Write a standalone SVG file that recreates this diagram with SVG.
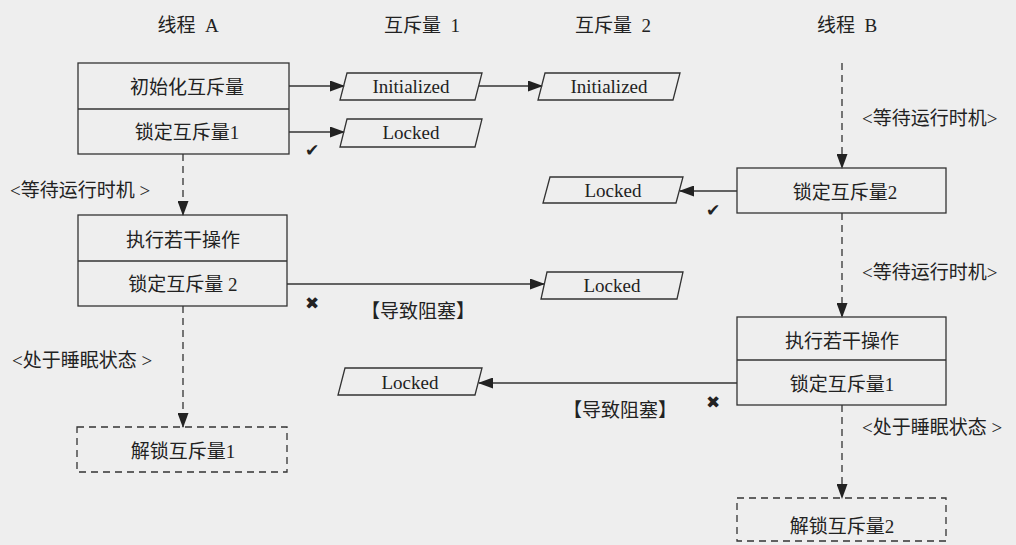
<svg xmlns="http://www.w3.org/2000/svg" width="1016" height="545" viewBox="0 0 1016 545">
<defs>
<marker id="ah" viewBox="0 0 15 11" refX="14" refY="5.5" markerWidth="15" markerHeight="11" markerUnits="userSpaceOnUse" orient="auto">
<path d="M0,0 L15,5.5 L0,11 Z" fill="#222"/>
</marker>
</defs>
<style>
text{font-family:"Liberation Serif","Noto Sans CJK SC",serif;font-size:19px;fill:#222;dominant-baseline:central}
.c{text-anchor:middle}
.t{white-space:pre}
.box{fill:none;stroke:#333;stroke-width:1.3}
.dbox{fill:none;stroke:#333;stroke-width:1.3;stroke-dasharray:7,5}
.par{fill:none;stroke:#333;stroke-width:1.3}
.ln{fill:none;stroke:#333;stroke-width:1.3;marker-end:url(#ah)}
.dl{fill:none;stroke:#333;stroke-width:1.3;stroke-dasharray:7,5;marker-end:url(#ah)}
.sym{font-family:"DejaVu Sans",sans-serif;font-size:17px;text-anchor:middle}
</style>
<rect width="1016" height="545" fill="#eeeeee"/>
<g id="titles">
<text class="c t" x="188" y="25">线程  A</text>
<text class="c t" x="422" y="25">互斥量  1</text>
<text class="c t" x="613" y="25">互斥量  2</text>
<text class="c t" x="847" y="25">线程  B</text>
</g>
<g id="connectors">
<path class="ln" d="M289,86 H344"/>
<path class="ln" d="M289,132 H344"/>
<path class="ln" d="M479,86 H542"/>
<path class="ln" d="M737,191 H680"/>
<path class="ln" d="M287,284 H544"/>
<path class="ln" d="M737,383 H479"/>
<path class="dl" d="M183,154 V215"/>
<path class="dl" d="M183,306 V427"/>
<path class="dl" d="M842,63 V168"/>
<path class="dl" d="M842,213 V317"/>
<path class="dl" d="M842,405 V498"/>
</g>
<g id="a1">
<rect class="box" x="78" y="63" width="211" height="91"/>
<line class="box" x1="78" y1="109" x2="289" y2="109"/>
<text class="c" x="187" y="87">初始化互斥量</text>
<text class="c" x="187" y="132">锁定互斥量1</text>
</g>
<g id="a2">
<rect class="box" x="78" y="215" width="209" height="91"/>
<line class="box" x1="78" y1="261" x2="287" y2="261"/>
<text class="c" x="183" y="240">执行若干操作</text>
<text class="c" x="183" y="284">锁定互斥量 2</text>
</g>
<g id="a3">
<rect class="dbox" x="77" y="427" width="210" height="45"/>
<text class="c" x="183" y="451">解锁互斥量1</text>
</g>
<g id="b1">
<rect class="box" x="737" y="168" width="209" height="45"/>
<text class="c" x="845" y="192">锁定互斥量2</text>
</g>
<g id="b2">
<rect class="box" x="737" y="317" width="209" height="88"/>
<line class="box" x1="737" y1="360" x2="946" y2="360"/>
<text class="c" x="842" y="341">执行若干操作</text>
<text class="c" x="842" y="384">锁定互斥量1</text>
</g>
<g id="b3">
<rect class="dbox" x="737" y="498" width="209" height="43"/>
<text class="c" x="842" y="526">解锁互斥量2</text>
</g>
<g id="m1-init">
<polygon class="par" points="347,73 482,73 475,100 340,100"/>
<text class="c" x="411" y="86">Initialized</text>
</g>
<g id="m1-locked">
<polygon class="par" points="347,119 482,119 475,147 340,147"/>
<text class="c" x="411" y="132">Locked</text>
</g>
<g id="m2-init">
<polygon class="par" points="545,73 680,73 673,100 538,100"/>
<text class="c" x="609" y="86">Initialized</text>
</g>
<g id="m2-locked">
<polygon class="par" points="550,177 683,177 676,203 543,203"/>
<text class="c" x="613" y="190">Locked</text>
</g>
<g id="m2-locked-a">
<polygon class="par" points="547,272 683,272 677,299 541,299"/>
<text class="c" x="612" y="285">Locked</text>
</g>
<g id="m1-locked-b">
<polygon class="par" points="345,368 482,368 475,395 338,395"/>
<text class="c" x="410" y="382">Locked</text>
</g>
<g id="labels">
<text x="10" y="190">&lt;等待运行时机 &gt;</text>
<text x="12" y="360">&lt;处于睡眠状态 &gt;</text>
<text x="862" y="118">&lt;等待运行时机&gt;</text>
<text x="862" y="272">&lt;等待运行时机&gt;</text>
<text x="862" y="427">&lt;处于睡眠状态 &gt;</text>
<text class="c" x="418" y="311">【导致阻塞】</text>
<text class="c" x="620" y="410">【导致阻塞】</text>
<text class="sym" x="312" y="150">✔</text>
<text class="sym" x="713" y="210">✔</text>
<text class="sym" x="312" y="303">✖</text>
<text class="sym" x="713" y="402">✖</text>
</g>
</svg>
